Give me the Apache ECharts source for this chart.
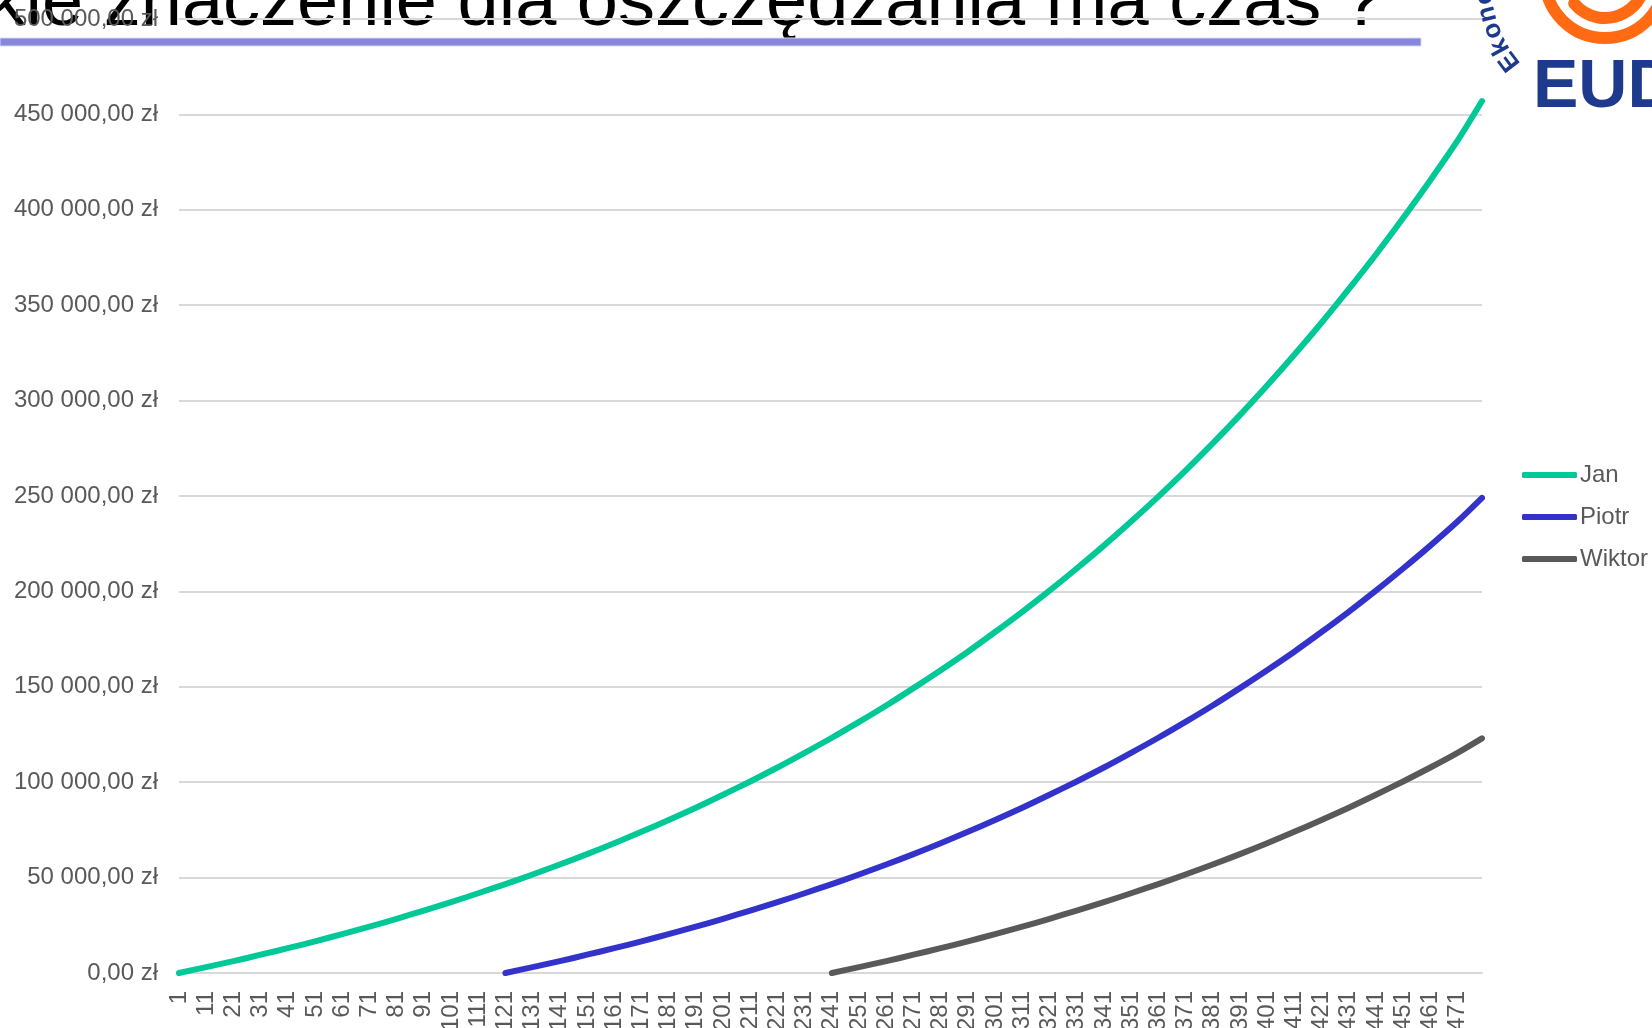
<!DOCTYPE html>
<html>
<head>
<meta charset="utf-8">
<title>Jakie znaczenie dla oszczędzania ma czas?</title>
<script src="https://cdn.jsdelivr.net/npm/echarts@6/dist/echarts.min.js"></script>
<style>
  html, body { margin: 0; padding: 0; background: #ffffff; }
  #chart { width: 1652px; height: 1028px; }
</style>
</head>
<body>
<div id="chart"></div>
<script>
  // miesiące oszczędzania (oś X)
  const monthCount = 480
  const months = Array.from({ length: monthCount }, (_, i) => String(i + 1))

  // miesiące, w których odczytano wartości z wykresu
  const sampleMonths = [1, 11, 21, 31, 41, 51, 61, 71, 81, 91, 101, 111, 121, 131, 141, 151, 161,
    171, 181, 191, 201, 211, 221, 231, 241, 251, 261, 271, 281, 291, 301, 311, 321, 331, 341,
    351, 361, 371, 381, 391, 401, 411, 421, 431, 441, 451, 461, 471, 480]

  // Jan oszczędza od 1. miesiąca
  const janValues = [0, 3100, 6200, 9600, 13000, 16600, 20400, 24300, 28400, 32700, 37100, 41800,
    46600, 51600, 56900, 62300, 68000, 74000, 80200, 86600, 93400, 100400, 107700, 115400,
    123300, 131600, 140200, 149300, 158700, 168400, 178700, 189300, 200400, 212000, 224000,
    236600, 249700, 263300, 277600, 292400, 307900, 324000, 340800, 358400, 376600, 395700,
    415500, 436200, 457000]

  // Piotr zaczyna w 121. miesiącu
  const piotrValues = [0, 3100, 6200, 9600, 13000, 16600, 20400, 24300, 28400, 32700, 37100, 41800,
    46600, 51600, 56900, 62300, 68000, 74000, 80200, 86600, 93400, 100400, 107700, 115400,
    123300, 131600, 140200, 149300, 158700, 168400, 178700, 189300, 200400, 212000, 224000,
    236600, 249000]

  // Wiktor zaczyna w 241. miesiącu
  const wiktorValues = [0, 3100, 6200, 9600, 13000, 16600, 20400, 24300, 28400, 32700, 37100, 41800,
    46600, 51600, 56900, 62300, 68000, 74000, 80200, 86600, 93400, 100400, 107700, 115400,
    123000]

  const seriesNames = ['Jan', 'Piotr', 'Wiktor']
  const seriesColors = ['#00c896', '#3333cc', '#595959']

  const titleText = 'Jakie znaczenie dla oszczędzania ma czas ?'
  const logoWord = 'Ekonomiczny'

  function pairs(values) {
    const start = sampleMonths.length - values.length
    return values.map((v, i) => [String(sampleMonths[start + i]), v])
  }

  function zl(v) {
    return String(v).replace(/\B(?=(\d{3})+(?!\d))/g, ' ') + ',00 zł'
  }

  const font = '"Liberation Sans", Arial, sans-serif'
  const navy = '#1d3a8c'
  const orange = '#ff6a13'

  // litery "Ekonomiczny" wokół logo
  const logoCx = 1605, logoCy = -22
  const letters = logoWord.split('').map((ch, i) => {
    const th = (143 + i * 7.8) * Math.PI / 180
    return {
      type: 'text',
      x: 1612 + 128 * Math.cos(th),
      y: -16 + 128 * Math.sin(th),
      rotation: 1.5 * Math.PI - th,
      style: {
        text: ch, fill: navy, fontSize: 26, fontWeight: 'bold', fontFamily: font,
        align: 'center', verticalAlign: 'middle'
      }
    }
  })

  let myChart = echarts.init(document.getElementById('chart'))
  myChart.setOption({
    animation: false,
    backgroundColor: '#ffffff',
    graphic: [
      {
        type: 'text',
        z: -1,
        x: 1383,
        y: 5,
        style: {
          text: titleText, fill: '#000000', fontSize: 74, fontFamily: font,
          align: 'right', verticalAlign: 'middle'
        }
      },
      {
        type: 'rect',
        z: -1,
        shape: { x: 0, y: 38, width: 1421, height: 8 },
        style: { fill: '#8686dc', stroke: '#d8d8f4', lineWidth: 1 }
      },
      {
        type: 'circle',
        shape: { cx: logoCx, cy: logoCy, r: 60 },
        style: { fill: 'none', stroke: orange, lineWidth: 12 }
      },
      {
        type: 'arc',
        shape: { cx: logoCx, cy: logoCy, r: 40, startAngle: -0.5, endAngle: 2.45, clockwise: true },
        style: { fill: 'none', stroke: orange, lineWidth: 12, lineCap: 'round' }
      },
      {
        type: 'text',
        x: 1533,
        y: 88,
        style: {
          text: 'EUD', fill: navy, fontSize: 68, fontWeight: 'bold', fontFamily: font,
          align: 'left', verticalAlign: 'middle'
        }
      }
    ].concat(letters),
    legend: {
      orient: 'vertical',
      left: 1517,
      top: 458,
      itemWidth: 55,
      itemHeight: 6,
      itemGap: 18,
      icon: 'roundRect',
      data: seriesNames,
      textStyle: { color: '#595959', fontSize: 24, fontFamily: font, padding: [0, 0, 0, -2] }
    },
    grid: {
      left: 179,
      right: 170,
      top: 19,
      bottom: 55,
      containLabel: false,
      outerBoundsMode: 'none'
    },
    xAxis: {
      type: 'category',
      data: months,
      boundaryGap: false,
      axisTick: { show: false },
      axisLine: { lineStyle: { color: '#d9d9d9', width: 2 } },
      axisLabel: {
        interval: 9,
        rotate: 90,
        margin: 18,
        color: '#595959',
        fontSize: 24,
        fontFamily: font
      },
      splitLine: { show: false }
    },
    yAxis: {
      type: 'value',
      min: 0,
      max: 500000,
      interval: 50000,
      axisLine: { show: false },
      axisTick: { show: false },
      axisLabel: {
        margin: 21,
        color: '#595959',
        fontSize: 24,
        fontFamily: font,
        formatter: zl
      },
      splitLine: { lineStyle: { color: '#d9d9d9', width: 2 } }
    },
    series: [
      { name: seriesNames[0], data: pairs(janValues) },
      { name: seriesNames[1], data: pairs(piotrValues) },
      { name: seriesNames[2], data: pairs(wiktorValues) }
    ].map((s, i) => ({
      name: s.name,
      type: 'line',
      data: s.data,
      smooth: 0.3,
      showSymbol: false,
      color: seriesColors[i],
      lineStyle: { width: 6, cap: 'round', join: 'round', color: seriesColors[i] }
    }))
  })
</script>
</body>
</html>
